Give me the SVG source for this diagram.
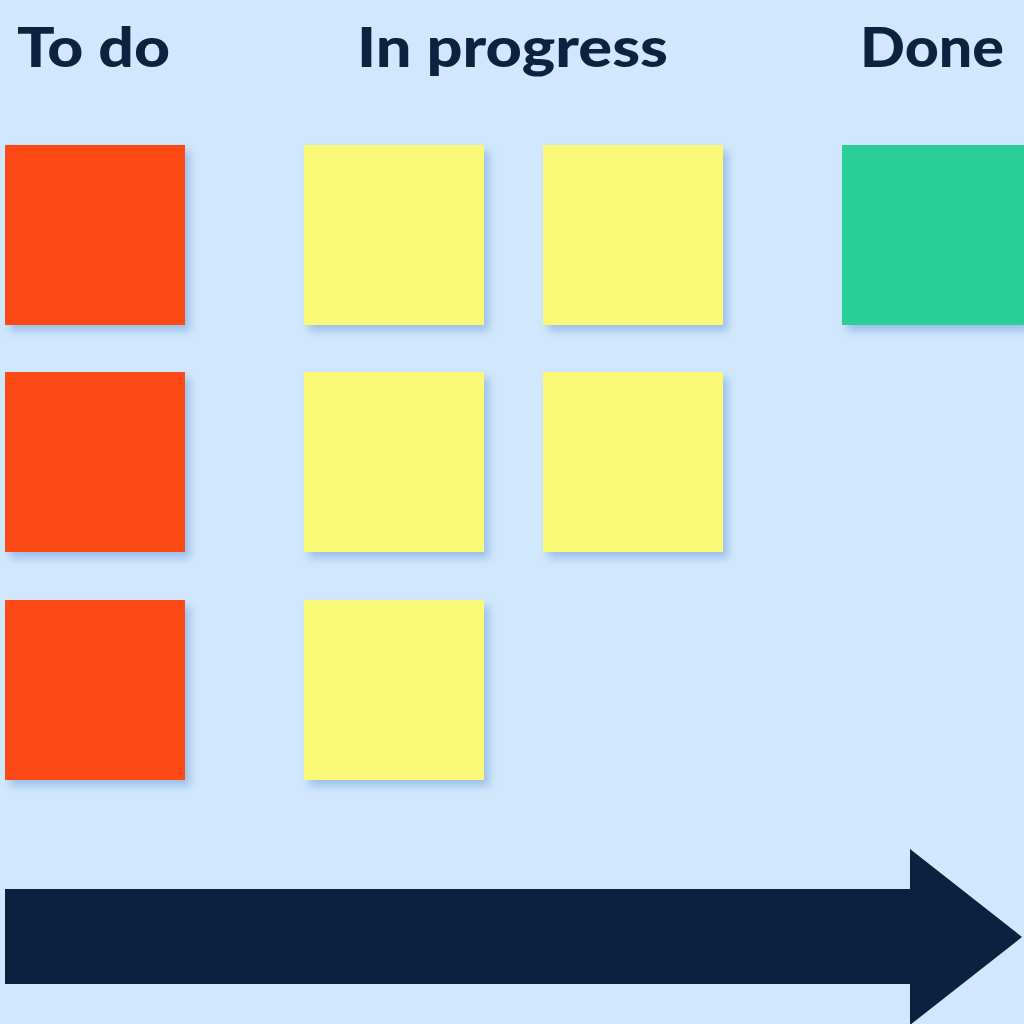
<svg xmlns="http://www.w3.org/2000/svg" width="1024" height="1024" viewBox="0 0 1024 1024">
<defs>
<filter id="sh" x="-20%" y="-20%" width="150%" height="150%">
<feGaussianBlur in="SourceAlpha" stdDeviation="4"/>
<feOffset dx="5" dy="6" result="b"/>
<feFlood flood-color="#6f9fd6" flood-opacity="0.55"/>
<feComposite in2="b" operator="in"/>
<feMerge><feMergeNode/><feMergeNode in="SourceGraphic"/></feMerge>
</filter>
<style>
.h{font-family:Lato,"Noto Sans",sans-serif;font-weight:900;font-size:56px;fill:#0c2340}
.r{fill:#fc4816}
.y{fill:#f9f877}
.g{fill:#2ccf98}
</style>
</defs>
<rect width="1024" height="1024" fill="#d1e7fd"/>
<g id="headers">
<text class="h" x="17" y="67" textLength="153" lengthAdjust="spacingAndGlyphs">To do</text>
<text class="h" x="357" y="67" textLength="311" lengthAdjust="spacingAndGlyphs">In progress</text>
<text class="h" x="860" y="67" textLength="144" lengthAdjust="spacingAndGlyphs">Done</text>
</g>
<g filter="url(#sh)">
<rect id="todo1" class="r" x="5" y="145" width="180" height="180"/>
<rect id="todo2" class="r" x="5" y="372" width="180" height="180"/>
<rect id="todo3" class="r" x="5" y="600" width="180" height="180"/>
<rect id="prog1" class="y" x="304" y="145" width="180" height="180"/>
<rect id="prog2" class="y" x="543" y="145" width="180" height="180"/>
<rect id="prog3" class="y" x="304" y="372" width="180" height="180"/>
<rect id="prog4" class="y" x="543" y="372" width="180" height="180"/>
<rect id="prog5" class="y" x="304" y="600" width="180" height="180"/>
<rect id="done1" class="g" x="842" y="145" width="182" height="180"/>
</g>
<g id="connectors">
<polygon points="5,889 910,889 910,849 1022,937 910,1025 910,984 5,984" fill="#0a2240"/>
</g>
</svg>
